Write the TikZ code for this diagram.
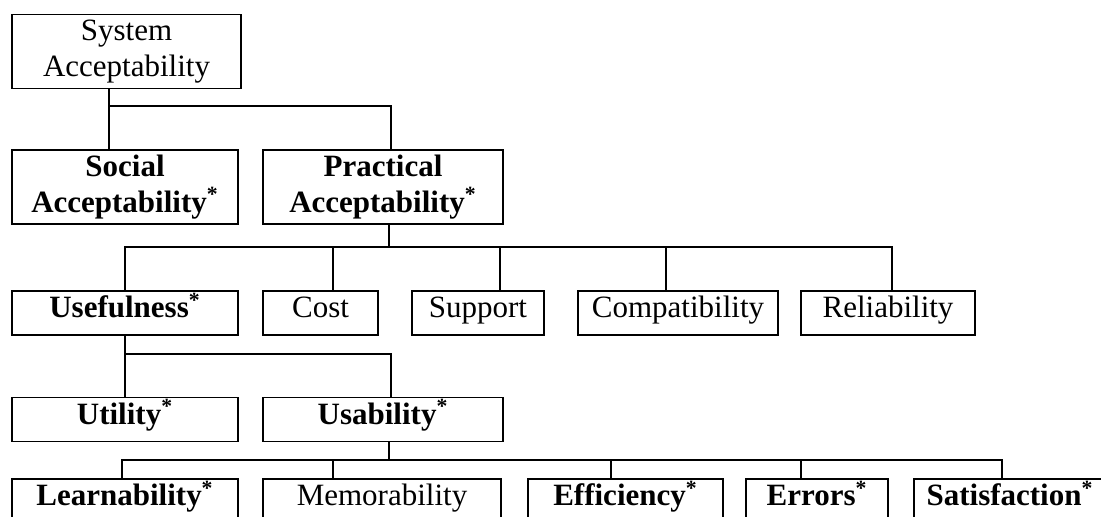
\documentclass[tikz,border=0pt]{standalone}
\usepackage{fontspec}
\setmainfont{Liberation Serif}
\usepackage{tikz}
\usetikzlibrary{positioning}

\newcommand{\starred}{\textsuperscript{*}}

\begin{document}
\begin{tikzpicture}[
    x=0.5pt, y=-0.5pt,
    box/.style={draw, line width=0.9pt, inner sep=0pt, font=\fontsize{15.5}{18}\selectfont},
    keybox/.style={box, font=\fontsize{15.5}{18}\selectfont\bfseries},
    single/.style={minimum height=22pt, text height=10.5pt, text depth=6pt},
    double/.style={minimum height=37pt, align=center},
    wire/.style={line width=0.9pt}
  ]

  \useasboundingbox (0,0) rectangle (1101,516);
  \clip (0,0) rectangle (1101,516);

  % Top level
  \node[box, double, minimum width=114.5pt] (sys) at (126.5,51.5) {System\\Acceptability};

  % Second level
  \node[keybox, double, minimum width=113pt] (social) at (125,187) {Social\\Acceptability\starred};
  \node[keybox, double, minimum width=120pt] (practical) at (383,187) {Practical\\Acceptability\starred};

  % Third level
  \node[keybox, single, minimum width=113pt] (useful) at (125,313) {Usefulness\starred};
  \node[box, single, minimum width=57.5pt] (cost) at (320.5,313) {Cost};
  \node[box, single, minimum width=66pt] (support) at (478,313) {Support};
  \node[box, single, minimum width=100pt] (compat) at (678,313) {Compatibility};
  \node[box, single, minimum width=87pt] (reliab) at (888,313) {Reliability};

  % Fourth level
  \node[keybox, single, minimum width=113pt] (utility) at (125,419.5) {Utility\starred};
  \node[keybox, single, minimum width=120pt] (usab) at (383,419.5) {Usability\starred};

  % Bottom level
  \node[keybox, single, minimum width=113pt] (learn) at (125,501) {Learnability\starred};
  \node[box, single, minimum width=119pt] (memor) at (382,501) {Memorability};
  \node[keybox, single, minimum width=97.5pt] (effic) at (625.5,501) {Efficiency\starred};
  \node[keybox, single, minimum width=71pt] (errors) at (817,501) {Errors\starred};
  \node[keybox, single, minimum width=96pt] (satisf) at (1010,501) {Satisfaction\starred};

  % System -> social / practical
  \coordinate (j1) at (109,106);
  \draw[wire] (sys.south -| j1) -- (social.north -| j1);
  \draw[wire] (j1) -| ([xshift=4pt]practical.north);

  % Practical -> third level
  \coordinate (j2) at (389,247);
  \draw[wire] (practical.south -| j2) -- (j2);
  \draw[wire] (useful.north) |- ([xshift=2pt]reliab.north |- j2) -- ([xshift=2pt]reliab.north);
  \foreach \n/\dx in {cost/6.25, support/11, compat/-6}
    \draw[wire] ([xshift=\dx pt]\n.north) -- ([xshift=\dx pt]\n.north |- j2);

  % Usefulness -> utility / usability
  \coordinate (j3) at (125,354);
  \draw[wire] (useful.south) -- (utility.north);
  \draw[wire] (j3) -| ([xshift=4pt]usab.north);

  % Usability -> bottom level
  \coordinate (j4) at (389,460);
  \draw[wire] (usab.south -| j4) -- (j4);
  \draw[wire] ([xshift=-1.5pt]learn.north) |- ([xshift=-4pt]satisf.north |- j4) -- ([xshift=-4pt]satisf.north);
  \foreach \n/\dx in {memor/-24.5, effic/-7.25, errors/-8}
    \draw[wire] ([xshift=\dx pt]\n.north) -- ([xshift=\dx pt]\n.north |- j4);

\end{tikzpicture}
\end{document}
